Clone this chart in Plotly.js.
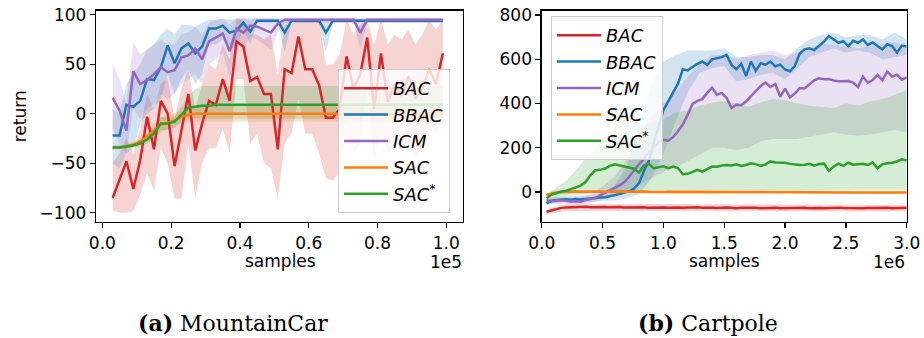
<!DOCTYPE html>
<html>
<head>
<meta charset="utf-8">
<script src="https://cdn.plot.ly/plotly-3.0.1.min.js"></script>
<style>
html,body{margin:0;padding:0;background:#ffffff;}
#chart{width:924px;height:338px;}
</style>
</head>
<body>
<div id="chart"></div>
<script>
// ---------- series identity ----------
const seriesNames = ['BAC', 'BBAC', 'ICM', 'SAC', 'SAC*'];
const legendLabels = ['<i>BAC</i>', '<i>BBAC</i>', '<i>ICM</i>', '<i>SAC</i>', '<i>SAC</i><sup>*</sup>'];
const lineColors = ['#d62728', '#1f77b4', '#9467bd', '#ff7f0e', '#2ca02c'];
const bandColors = ['rgba(214,39,40,0.2)', 'rgba(31,119,180,0.2)', 'rgba(148,103,189,0.2)', 'rgba(255,127,14,0.2)', 'rgba(44,160,44,0.2)'];

// ---------- (a) MountainCar : samples in units of 1e5 ----------
const mcSamples = [0.03,0.05,0.07,0.09,0.11,0.13,0.15,0.17,0.19,0.21,
  0.23,0.25,0.27,0.29,0.31,0.33,0.35,0.37,0.39,0.41,
  0.43,0.45,0.47,0.49,0.51,0.53,0.55,0.57,0.59,0.61,
  0.63,0.65,0.67,0.69,0.71,0.73,0.75,0.77,0.79,0.81,
  0.83,0.85,0.87,0.89,0.91,0.93,0.95,0.97,0.99];

const mcBAC = [-85,-66,-48,-76,-47,-3,-36,13,0,-53,
  -18,20,-37,-10,13,9,35,13,73,68,
  33,37,20,20,-36,45,41,78,45,45,
  29,-4,-4,5,58,25,40,77,5,61,
  12,30,18,38,15,25,45,30,61];
const mcBACLo = [-98,-100,-100,-98,-82,-60,-78,-35,-50,-86,
  -86,-30,-86,-50,-35,-35,-15,-40,35,35,
  -30,-20,-50,-55,-86,-30,-20,15,-20,-20,
  -40,-65,-68,-60,-5,-40,-30,30,-50,-20,
  -40,-30,-40,-20,-45,-30,-5,-20,-5];
const mcBACHi = [-50,-40,-25,-40,-15,20,5,30,35,-5,
  25,45,5,30,50,45,70,55,95,95,
  80,80,75,80,40,90,90,95,95,95,
  95,50,50,60,95,80,90,95,70,95,
  70,80,75,85,70,80,95,85,95];

const mcBBAC = [-22,-22,9,7,13,35,34,47,69,51,
  66,71,61,68,86,86,89,82,84,92,
  83,94,94,94,94,82,94,94,94,94,
  94,82,94,94,94,94,94,94,94,94,
  94,94,94,94,94,94,94,94,94];
const mcBBACLo = [-50,-55,-40,-35,-10,0,5,15,40,20,
  35,45,30,40,70,70,75,65,70,85,
  70,92,92,92,92,62,92,92,92,92,
  92,62,92,92,92,92,92,92,92,92,
  92,92,92,92,92,92,92,92,92];
const mcBBACHi = [5,0,30,40,50,65,70,80,86,80,
  90,90,88,92,95,95,96,95,96,96,
  95,96,96,96,96,95,96,96,96,96,
  96,95,96,96,96,96,96,96,96,96,
  96,96,96,96,96,96,96,96,96];

const mcICM = [16,3,-17,43,30,34,40,47,42,44,
  57,59,66,55,73,77,81,63,86,82,
  89,88,85,82,91,95,95,95,95,95,
  95,95,95,95,95,95,82,95,95,95,
  95,95,95,95,95,95,95,95,95];
const mcICMLo = [-15,-30,-40,5,-5,5,10,20,15,20,
  30,35,40,30,50,55,62,35,72,65,
  78,75,70,65,82,92,92,92,92,92,
  92,92,92,92,92,92,65,92,92,92,
  92,92,92,92,92,92,92,92,92];
const mcICMHi = [50,35,10,72,60,65,70,75,70,70,
  80,82,88,80,92,95,96,90,97,97,
  97,97,97,97,97,97,97,97,97,97,
  97,97,97,97,97,97,96,97,97,97,
  97,97,97,97,97,97,97,97,97];

const mcSAC = [-34,-34,-33,-31,-28,-23,-17,-11,-9,-7,
  -3,-1,0,0,0,0,0,0,0,0,
  0,0,0,0,0,0,0,0,0,0,
  0,0,0,0,0,0,0,0,0,0,
  0,0,0,0,0,0,0,0,0];
const mcSACLo = [-36,-36,-35,-34,-32,-28,-24,-19,-16,-14,
  -10,-8,-8,-8,-8,-8,-8,-8,-8,-8,
  -8,-8,-8,-8,-8,-8,-8,-8,-8,-8,
  -8,-8,-8,-8,-8,-8,-8,-8,-8,-8,
  -8,-8,-8,-8,-8,-8,-8,-8,-8];
const mcSACHi = [-32,-32,-31,-28,-24,-18,-10,-3,-2,0,
  4,6,8,8,8,8,8,8,8,8,
  8,8,8,8,8,8,8,8,8,8,
  8,8,8,8,8,8,8,8,8,8,
  8,8,8,8,8,8,8,8,8];

const mcSACstar = [-34,-34,-33,-32,-30,-26,-20,-10,-10,-8,
  -1,6,7,8,8,9,9,9,9,9,
  9,9,9,9,9,9,9,9,9,9,
  9,9,9,9,9,9,9,9,9,9,
  9,9,9,9,9,9,9,9,9];
const mcSACstarLo = [-36,-36,-35,-34,-33,-30,-25,-17,-16,-14,
  -8,-4,-4,-5,-5,-5,-5,-5,-5,-5,
  -5,-5,-5,-5,-5,-5,-5,-5,-5,-5,
  -5,-5,-5,-5,-5,-5,-5,-5,-5,-5,
  -5,-5,-5,-5,-5,-5,-5,-5,-5];
const mcSACstarHi = [-32,-32,-31,-30,-27,-22,-15,-3,-4,-2,
  8,18,25,28,28,28,28,28,28,28,
  28,28,28,28,28,28,28,28,28,28,
  28,28,28,28,28,28,28,28,28,28,
  28,28,28,28,28,28,28,28,28];

const mcXTicks = [0, 0.2, 0.4, 0.6, 0.8, 1.0];
const mcYTicks = [-100, -50, 0, 50, 100];

// ---------- (b) Cartpole : samples in units of 1e6 ----------
const cpSamples = [0.04,0.08,0.12,0.16,0.2,0.24,0.28,0.32,0.36,0.4,
  0.44,0.48,0.52,0.56,0.6,0.64,0.68,0.72,0.76,0.8,
  0.84,0.88,0.92,0.96,1.0,1.04,1.08,1.12,1.16,1.2,
  1.24,1.28,1.32,1.36,1.4,1.44,1.48,1.52,1.56,1.6,
  1.64,1.68,1.72,1.76,1.8,1.84,1.88,1.92,1.96,2.0,
  2.04,2.08,2.12,2.16,2.2,2.24,2.28,2.32,2.36,2.4,
  2.44,2.48,2.52,2.56,2.6,2.64,2.68,2.72,2.76,2.8,
  2.84,2.88,2.92,2.96,3.0];

const cpBAC = [-90,-84,-76,-72,-70,-69,-70,-68,-67,-69,
  -68,-70,-68,-69,-67,-68,-70,-69,-68,-70,
  -69,-71,-70,-68,-70,-71,-69,-70,-72,-70,
  -71,-69,-72,-70,-71,-73,-71,-70,-72,-74,
  -72,-71,-73,-72,-74,-73,-71,-72,-74,-73,
  -72,-71,-73,-72,-74,-72,-73,-74,-72,-73,
  -71,-73,-74,-72,-73,-74,-73,-72,-74,-73,
  -72,-74,-73,-72,-71];
const cpBBAC = [-52,-40,-36,-34,-33,-35,-32,-34,-31,-30,
  -28,-25,-24,-20,-15,-10,-3,3,15,40,
  95,140,220,300,370,410,450,490,555,550,
  565,580,590,575,600,605,610,620,575,555,
  580,525,590,548,582,576,590,568,576,554,
  546,570,625,645,650,642,660,680,705,690,
  675,682,660,684,675,690,665,676,660,645,
  668,660,630,662,658];
const cpICM = [-38,-42,-40,-38,-40,-44,-42,-45,-36,-32,
  -28,-15,-5,8,18,30,45,70,100,125,
  150,180,205,225,236,232,248,275,305,350,
  398,412,420,448,472,440,448,425,380,395,
  392,410,432,455,480,495,475,488,430,468,
  428,445,470,468,488,505,514,510,511,504,
  501,500,502,495,475,522,494,506,530,505,
  545,522,530,508,518];
const cpSAC = [-15,-7,-3,-1,0,1,2,1,2,2,
  3,2,1,2,2,3,2,1,2,1,
  2,1,0,1,0,1,1,0,-1,0,
  1,0,-1,0,0,-1,0,-1,-2,-1,
  0,-1,-1,-2,-1,0,-1,-2,-1,-1,
  -2,-1,0,-1,-2,-1,-2,-1,-2,-1,
  -2,-2,-1,-2,-3,-2,-1,-2,-3,-2,
  -3,-2,-3,-3,-3];
const cpSACstar = [-28,-12,-6,2,5,12,18,28,45,75,
  98,100,106,118,125,120,118,112,105,88,
  120,128,107,112,116,108,115,108,80,82,
  92,100,92,105,115,114,120,122,120,125,
  118,122,130,126,118,125,138,133,134,132,
  127,124,122,123,127,119,126,128,95,115,
  128,118,132,123,126,127,122,134,106,125,
  130,132,138,148,142];

// spread bands (coarser sampling)
const cpBandSamples = [0.04,0.1,0.2,0.3,0.4,0.5,0.6,0.7,0.8,0.9,
  1.0,1.1,1.2,1.3,1.4,1.5,1.6,1.7,1.8,1.9,
  2.0,2.1,2.2,2.3,2.4,2.5,2.6,2.7,2.8,2.9,3.0];
const cpBACLo = [-100,-95,-86,-85,-85,-86,-85,-86,-85,-86,
  -86,-86,-85,-87,-86,-87,-87,-86,-88,-87,
  -88,-87,-88,-88,-87,-88,-89,-88,-88,-89,-88];
const cpBACHi = [-80,-68,-55,-54,-54,-53,-55,-54,-53,-54,
  -55,-54,-55,-56,-55,-56,-57,-56,-57,-56,
  -57,-58,-57,-58,-57,-58,-57,-58,-59,-58,-58];
const cpBBACLo = [-62,-50,-45,-45,-45,-40,-40,-30,-10,60,
  170,320,450,540,560,570,500,510,530,540,
  510,560,610,630,650,630,640,630,600,610,620];
const cpBBACHi = [-42,-26,-20,-18,-15,-5,30,120,300,480,
  590,620,640,640,640,650,610,610,620,620,
  600,650,690,710,720,700,710,710,690,720,690];
const cpICMLo = [-50,-55,-55,-58,-50,-35,-20,-5,30,60,
  90,110,140,170,200,200,190,200,230,240,
  240,240,250,260,270,260,255,260,270,280,270];
const cpICMHi = [-25,-25,-25,-25,-10,25,70,150,260,340,
  400,450,520,580,620,620,600,620,630,640,
  620,630,650,670,665,660,650,660,670,680,650];
const cpSACLo = [-24,-10,-7,-6,-7,-6,-7,-7,-6,-7,
  -7,-8,-7,-8,-8,-7,-8,-8,-9,-8,
  -8,-9,-8,-9,-9,-9,-9,-10,-9,-10,-10];
const cpSACHi = [-6,6,8,8,9,8,9,8,9,9,
  8,8,8,7,8,8,7,8,7,7,
  7,6,7,6,6,6,5,6,5,5,4];
const cpSACstarLo = [-40,-30,-20,-12,-5,0,3,5,5,7,
  8,8,8,10,10,10,10,10,10,10,
  10,10,10,10,10,10,10,10,10,10,10];
const cpSACstarHi = [-15,15,50,110,180,240,270,290,300,310,
  330,360,370,390,405,410,400,385,405,420,
  415,400,390,385,380,400,390,410,420,440,460];

const cpXTicks = [0, 0.5, 1.0, 1.5, 2.0, 2.5, 3.0];
const cpYTicks = [0, 200, 400, 600, 800];

// ---------- trace builders ----------
function bandTrace(x, lo, hi, i, xa, ya) {
  return {
    x: x.concat(x.slice().reverse()),
    y: hi.concat(lo.slice().reverse()),
    type: 'scatter', mode: 'lines', fill: 'toself',
    fillcolor: bandColors[i], line: {width: 0, color: bandColors[i]},
    hoverinfo: 'skip', showlegend: false, xaxis: xa, yaxis: ya
  };
}
function lineTrace(x, y, i, xa, ya, leg) {
  return {
    x: x, y: y, type: 'scatter', mode: 'lines',
    line: {color: lineColors[i], width: 2.5},
    name: legendLabels[i], legend: leg, xaxis: xa, yaxis: ya
  };
}

const mcMeans = [mcBAC, mcBBAC, mcICM, mcSAC, mcSACstar];
const mcLos = [mcBACLo, mcBBACLo, mcICMLo, mcSACLo, mcSACstarLo];
const mcHis = [mcBACHi, mcBBACHi, mcICMHi, mcSACHi, mcSACstarHi];
const cpMeans = [cpBAC, cpBBAC, cpICM, cpSAC, cpSACstar];
const cpLos = [cpBACLo, cpBBACLo, cpICMLo, cpSACLo, cpSACstarLo];
const cpHis = [cpBACHi, cpBBACHi, cpICMHi, cpSACHi, cpSACstarHi];

const traces = [];
for (let i = 0; i < seriesNames.length; i++) {
  traces.push(bandTrace(mcSamples, mcLos[i], mcHis[i], i, 'x', 'y'));
  traces.push(bandTrace(cpBandSamples, cpLos[i], cpHis[i], i, 'x2', 'y2'));
}
for (let i = 0; i < seriesNames.length; i++) {
  traces.push(lineTrace(mcSamples, mcMeans[i], i, 'x', 'y', 'legend'));
}
for (let i = 0; i < seriesNames.length; i++) {
  traces.push(lineTrace(cpSamples, cpMeans[i], i, 'x2', 'y2', 'legend2'));
}

// ---------- layout ----------
const W = 924, H = 338;
const FONT = 'DejaVu Sans, sans-serif';
const txt = {family: FONT, size: 17, color: '#000'};
const axisStyle = {
  showline: true, mirror: true, linecolor: '#000', linewidth: 1.3,
  ticks: 'outside', ticklen: 5, tickwidth: 1.3, tickcolor: '#000',
  showgrid: false, zeroline: false, tickfont: txt
};
const yDomain = [1 - 222 / H, 1 - 10.5 / H];
const legendStyle = {
  xanchor: 'left', yanchor: 'top',
  bgcolor: 'rgba(255,255,255,0.8)', bordercolor: '#cccccc', borderwidth: 1,
  font: {family: FONT, size: 18, color: '#000'}, itemwidth: 44, tracegroupgap: 0
};
function note(text, xpx, ypx, xanchor, font) {
  return {text: text, xref: 'paper', yref: 'paper', x: xpx / W, y: 1 - ypx / H,
          xanchor: xanchor, yanchor: 'middle', showarrow: false, borderpad: 0, font: font};
}
const capFont = {family: 'DejaVu Serif, serif', size: 22, color: '#000'};

const layout = {
  width: W, height: H,
  margin: {l: 0, r: 0, t: 0, b: 0, pad: 0},
  paper_bgcolor: '#ffffff', plot_bgcolor: '#ffffff',
  font: txt,
  xaxis: Object.assign({}, axisStyle, {
    domain: [96 / W, 463 / W], range: [-0.0185, 1.0485], anchor: 'y',
    tickvals: mcXTicks, ticktext: mcXTicks.map(v => v.toFixed(1))
  }),
  yaxis: Object.assign({}, axisStyle, {
    domain: yDomain, range: [-109.4, 104.3], anchor: 'x',
    tickvals: mcYTicks,
    title: {text: 'return', font: txt, standoff: 8}
  }),
  xaxis2: Object.assign({}, axisStyle, {
    domain: [541.7 / W, 906.7 / W], range: [0, 3], anchor: 'y2',
    tickvals: cpXTicks, ticktext: cpXTicks.map(v => v.toFixed(1))
  }),
  yaxis2: Object.assign({}, axisStyle, {
    domain: yDomain, range: [-136, 821], anchor: 'x2',
    tickvals: cpYTicks
  }),
  legend: Object.assign({}, legendStyle, {x: 338 / W, y: 1 - 69 / H}),
  legend2: Object.assign({}, legendStyle, {x: 551 / W, y: 1 - 16 / H}),
  annotations: [
    note('samples', 280, 261, 'center', txt),
    note('1e5', 463, 262, 'right', txt),
    note('samples', 724, 261, 'center', txt),
    note('1e6', 906, 262, 'right', txt),
    note('<b>(a)</b> MountainCar', 233, 323, 'center', capFont),
    note('<b>(b)</b> Cartpole', 708, 323, 'center', capFont)
  ]
};

Plotly.newPlot('chart', traces, layout, {staticPlot: true, displayModeBar: false});
</script>
</body>
</html>
